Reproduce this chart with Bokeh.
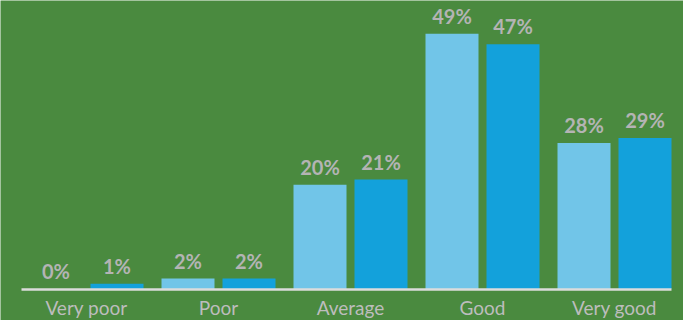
from bokeh.plotting import figure
from bokeh.models import ColumnDataSource, Range1d
from bokeh.core.properties import value
from bokeh.embed import file_html
from bokeh.resources import INLINE

categories = ["Very poor", "Poor", "Average", "Good", "Very good"]
series_a = [0, 2, 20, 49, 28]   # light blue
series_b = [1, 2, 21, 47, 29]   # dark blue
labels_a = ["0%", "2%", "20%", "49%", "28%"]
labels_b = ["1%", "2%", "21%", "47%", "29%"]

BG = "#4a8a3f"
LIGHT = "#71c5e8"
DARK = "#13a1db"
TXT = "#b4b4b4"
CAT_TXT = "#bdbdbd"

W, H = 683, 320
step = 132.0          # px between group centers
c0 = 86.0             # px of first group center
off = 30.5 / step     # half pair offset
bw = 53.0 / step      # bar width
pxu = 5.21            # px per percent
base_px = 288.5       # baseline from top

p = figure(width=W, height=H, output_backend="svg", toolbar_location=None,
           x_range=Range1d(-c0 / step, (W - c0) / step),
           y_range=Range1d(-(H - base_px) / pxu, base_px / pxu),
           min_border=0)
p.background_fill_color = BG
p.border_fill_color = BG
p.outline_line_color = None
p.axis.visible = False
p.grid.visible = False

idx = list(range(len(categories)))
src = ColumnDataSource(dict(
    xa=[i - off for i in idx], xb=[i + off for i in idx], xc=idx,
    a=series_a, b=series_b, la=labels_a, lb=labels_b, cat=categories))

p.vbar(x="xa", top="a", bottom=0, width=bw, source=src,
       fill_color=LIGHT, line_color=None)
p.vbar(x="xb", top="b", bottom=0, width=bw, source=src,
       fill_color=DARK, line_color=None)

# axis line
p.segment(x0=[-65 / step], x1=[(len(categories) - 1) + 57 / step],
          y0=[-0.1], y1=[-0.1], line_color="#dcdcdc", line_width=2.5)

font = value("Lato")
p.text(x="xa", y="a", text="la", source=src, text_font=font,
       text_font_size="20px", text_font_style="bold", text_color=TXT,
       text_align="center", text_baseline="bottom", y_offset=-6)
p.text(x="xb", y="b", text="lb", source=src, text_font=font,
       text_font_size="20px", text_font_style="bold", text_color=TXT,
       text_align="center", text_baseline="bottom", y_offset=-6)
p.text(x="xc", y=0, text="cat", source=src, text_font=font,
       text_font_size="19px", text_color=CAT_TXT,
       text_align="center", text_baseline="top", y_offset=7)

open("out.html", "w").write(file_html(p, INLINE))
